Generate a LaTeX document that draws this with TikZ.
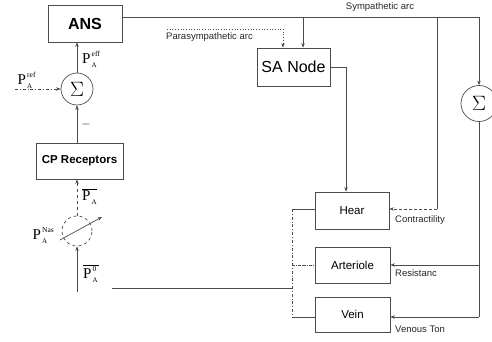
\documentclass[tikz,border=0pt]{standalone}
\usepackage[no-math]{fontspec}
\setmainfont{Liberation Sans}
\newfontfamily\lserif{Liberation Serif}
\usetikzlibrary{arrows.meta}
\newcommand\plabel[2]{{\lserif P\kern1.2pt\makebox[0pt][l]{\raisebox{7pt}{\fontsize{7.5}{8}\selectfont #1}}\raisebox{-4pt}{\fontsize{7}{8}\selectfont #2}}}
\begin{document}
\begin{tikzpicture}[x=1pt,y=-1pt,
  ln/.style={draw=black!70, line width=0.7pt},
  arr/.style={ln,-{Stealth[length=4.5pt,width=3.5pt]}},
  blk/.style={ln, rectangle, inner sep=0pt, align=center, text=black},
  sumc/.style={ln, circle, inner sep=0pt},
  lab/.style={font=\fontsize{9.5}{11}\selectfont, inner sep=0pt, text=black!85},
  pl/.style={font=\fontsize{15}{16}\selectfont, inner sep=0pt}]
\useasboundingbox (0,0) rectangle (492,342);

% blocks
\node[blk, minimum width=74pt, minimum height=37pt, font=\bfseries\fontsize{16}{18}\selectfont] (ans) at (85,23.5) {ANS};
\node[blk, minimum width=87pt, minimum height=36pt, font=\bfseries\fontsize{11.5}{13}\selectfont] (cp) at (79.5,161) {CP Receptors};
\node[blk, minimum width=73pt, minimum height=38pt, font=\fontsize{16}{18}\selectfont] (sa) at (293.5,67) {SA Node};
\node[blk, minimum width=74pt, minimum height=37pt, font=\fontsize{11.5}{13}\selectfont] (heart) at (352,210.5) {Hear};
\node[blk, minimum width=75pt, minimum height=36pt, font=\fontsize{11.5}{13}\selectfont] (art) at (352.5,265) {Arteriole};
\node[blk, minimum width=75pt, minimum height=35pt, font=\fontsize{11.5}{13}\selectfont] (veins) at (352.5,314.5) {Vein};

% summing junctions
\node[sumc, minimum size=32pt] (s1) at (77,89) {\fontsize{20}{20}\selectfont$\Sigma$};
\node[sumc, dashed, minimum size=30pt] (s2) at (77,231) {};
\node[sumc, minimum size=36pt] (s3) at (479,103.5) {\fontsize{20}{20}\selectfont$\Sigma$};

% left column
\node[pl, anchor=west] (peff) at (82,59) {\plabel{eff}{A}};
\node[pl] (pref) at (25,80) {\plabel{ref}{A}};
\coordinate (prefstart) at (15,89);
\draw[arr, dash dot] (prefstart) -- (s1.west);
\node[font=\fontsize{12}{12}\selectfont] (minus) at (86,125) {$-$};
\draw[arr] (s1.north) -- (s1.north |- ans.south);
\draw[arr] (s1.south |- cp.north) -- (s1.south);
\draw[arr, dashed] (s2.north) -- (s2.north |- cp.south);
\node[pl, anchor=west] (pa) at (82,197) {$\overline{\hbox{\plabel{}{A}}}$};
\node[pl] (pnas) at (40,236) {\plabel{Nas}{A}};
\coordinate (d1) at (60,240);
\coordinate (d2) at (102,217);
\draw[arr] (d1) -- (d2);
\coordinate (p0start) at (77,292);
\draw[arr] (p0start) -- (s2.south);
\node[pl, anchor=west] (p0) at (83,274) {$\overline{\hbox{\plabel{0}{A}\hspace{1pt}}}$};

% sympathetic arc
\coordinate (t1) at (303,17);
\coordinate (t2) at (437,17);
\coordinate (t3) at (479,17);
\draw[arr] (ans.east |- t1) -- (t3) -- (s3.north);
\draw[arr] (t1) -- (t1 |- sa.north);
\coordinate (c1) at (437,209);
\draw[ln] (t2) -- (c1);
\draw[arr, densely dashed] (c1) -- (c1 -| heart.east);
\node[lab] (symp) at (380,7) {Sympathetic arc};

% parasympathetic arc
\coordinate (pp0) at (167,29);
\coordinate (pp1) at (283,29);
\draw[arr, dotted] (pp0) -- (pp1) -- (pp1 |- sa.north);
\node[lab, anchor=west] (para) at (166,37) {Parasympathetic arc};

% SA node to heart
\coordinate (sh) at (346,67);
\draw[arr] (sa.east) -- (sh) -- (sh |- heart.north);

% right branch
\coordinate (r1) at (479,265);
\coordinate (r2) at (479,317);
\draw[ln] (s3.south) -- (r2);
\draw[arr] (r2) -- (r2 -| veins.east);
\draw[arr] (r1) -- (r1 -| art.east);

% left bus
\coordinate (bx) at (292,209);
\coordinate (b2) at (292,265);
\coordinate (b3) at (292,317);
\coordinate (b4) at (292,288);
\coordinate (in0) at (112,288);
\draw[ln] (bx) -- (bx -| heart.west);
\draw[ln, dash dot] (bx) -- (b3);
\draw[ln, densely dash dot] (b2) -- (b2 -| art.west);
\draw[ln] (b3) -- (b3 -| veins.west);
\draw[ln] (in0) -- (b4);

% right labels
\node[lab, anchor=west] (lc) at (395,220) {Contractility};
\node[lab, anchor=west] (lr) at (395,273) {Resistanc};
\node[lab, anchor=west] (lv) at (395,329) {Venous Ton};
\end{tikzpicture}
\end{document}
